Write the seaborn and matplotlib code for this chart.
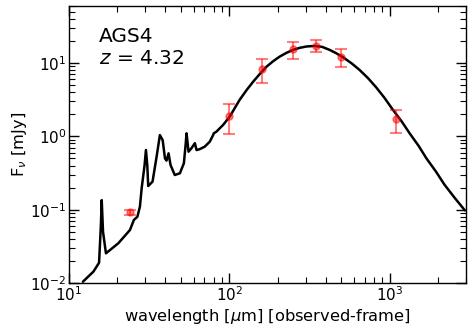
import matplotlib
matplotlib.use("Agg")
import matplotlib.pyplot as plt
import seaborn as sns
import pandas as pd

# SED model curve (observed-frame wavelength in micron, flux in mJy)
modelo_lambda = [12.2, 14.2, 15.4, 15.8, 16.0, 16.3, 17.0, 20.3, 24.0, 25.4, 26.7, 27.7, 28.4,
                 29.6, 30.2, 30.8, 31.2, 33.2, 35.2, 36.9, 38.4, 39.7, 40.6, 41.8, 43.0,
                 45.7, 49.2, 52.1, 53.5, 54.1, 55.0, 55.7, 58.1, 61.0, 62.5, 65.5, 70.3,
                 75.6, 79.3, 80.0, 83.2, 91.5, 100.7, 116, 128, 141, 156, 171, 188, 206,
                 228, 250, 275, 303, 340, 380, 423, 465, 512, 580, 650, 735, 826, 930,
                 1050, 1190, 1335, 1520, 1700, 1950, 2200, 2550, 2950]
modelo_flujo = [0.0104, 0.0143, 0.0189, 0.06, 0.135, 0.05, 0.0254, 0.0348, 0.0528, 0.0725,
                0.080, 0.110, 0.196, 0.40, 0.652, 0.40, 0.21, 0.241, 0.528, 1.04, 0.89,
                0.50, 0.467, 0.587, 0.407, 0.297, 0.314, 0.43, 0.80, 1.10, 0.80, 0.618,
                0.689, 0.806, 0.65, 0.67, 0.724, 0.847, 1.04, 1.10, 1.16, 1.43, 1.86,
                3.14, 4.25, 5.57, 7.2, 8.93, 10.6, 12.2, 13.8, 15.1, 16.1, 16.8, 17.1,
                16.6, 15.1, 13.6, 12.0, 9.9, 8.05, 6.2, 4.65, 3.35, 2.3, 1.6, 1.1,
                0.74, 0.50, 0.33, 0.22, 0.145, 0.098]

# photometry
obs_lambda = [24, 100, 160, 250, 350, 500, 1100]
obs_flujo = [0.092, 1.9, 8.4, 15.4, 17.3, 12.2, 1.71]
obs_error = [0.008, 0.83, 3.05, 4.1, 3.0, 3.5, 0.6]

df_modelo = pd.DataFrame({"lam": modelo_lambda, "flux": modelo_flujo})
df_obs = pd.DataFrame({"lam": obs_lambda, "flux": obs_flujo, "err": obs_error})

sns.set_style("ticks")
plt.rcParams["font.family"] = ["DejaVu Sans"]
plt.rcParams["mathtext.fontset"] = "dejavusans"
for k in ["text.color", "axes.labelcolor", "xtick.color", "ytick.color", "axes.edgecolor"]:
    plt.rcParams[k] = "black"

fig = plt.figure(figsize=(4.74, 3.31), dpi=100)
ax = fig.add_axes([0.1456, 0.145, 0.8375, 0.837])

sns.lineplot(data=df_modelo, x="lam", y="flux", ax=ax, color="black", lw=1.8,
             sort=False, estimator=None)
ax.errorbar(df_obs["lam"], df_obs["flux"], yerr=df_obs["err"], fmt="o", color="red",
            alpha=0.5, ms=5, elinewidth=1.5, capsize=4, capthick=1.5)

ax.set_xscale("log")
ax.set_yscale("log")
ax.set_xlim(10, 3000)
ax.set_ylim(1e-2, 60)

ax.tick_params(which="both", direction="in", top=True, right=True, labelsize=11)
ax.tick_params(which="major", length=7, width=1, pad=2)
ax.tick_params(which="minor", length=4, width=0.8)
for s in ax.spines.values():
    s.set_linewidth(1)

ax.set_xlabel(r"wavelength [$\mu$m] [observed-frame]", fontsize=11.7, labelpad=2)
ax.set_ylabel(r"F$_\nu$ [mJy]", fontsize=11.7, labelpad=1)

ax.text(0.075, 0.871, "AGS4", transform=ax.transAxes, fontsize=14.5)
ax.text(0.075, 0.789, r"$z$ = 4.32", transform=ax.transAxes, fontsize=14.5)

fig.savefig("out.png", dpi=100)
plt.close(fig)
